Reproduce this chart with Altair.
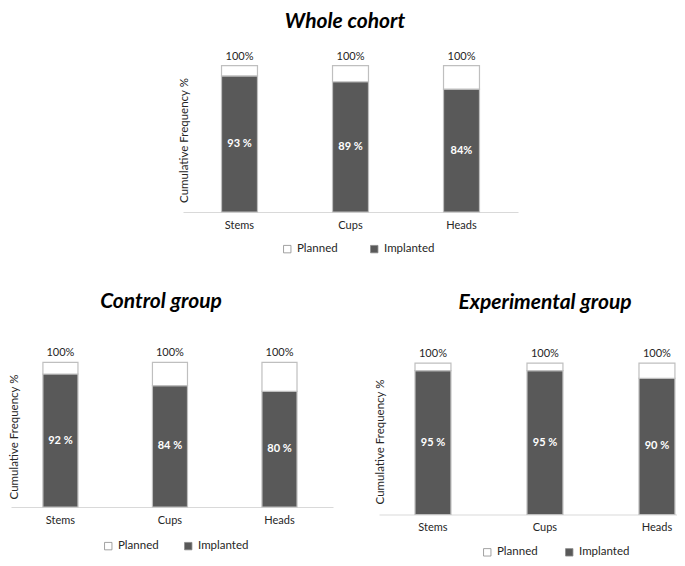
import altair as alt
import pandas as pd

# ---------------- data ----------------
categories = ["Stems", "Cups", "Heads"]
series = ["Planned", "Implanted"]
planned_total = [100, 100, 100]
total_labels = ["100%", "100%", "100%"]

whole_implanted = [93, 89, 84]
whole_labels = ["93 %", "89 %", "84%"]

control_implanted = [92, 84, 80]
control_labels = ["92 %", "84 %", "80 %"]

exp_implanted = [95, 95, 90]
exp_labels = ["95 %", "95 %", "90 %"]

FONT = "Lato"
DARK = "#595959"
EDGE = "#bfbfbf"
TXT = "#262626"


def seg_df(values):
    rows = []
    for c, v, t in zip(categories, values, planned_total):
        rows.append({"cat": c, "series": "Implanted", "lo": 0, "hi": v})
        rows.append({"cat": c, "series": "Planned", "lo": v, "hi": t})
    return pd.DataFrame(rows)


def lab_df(values, labels):
    return pd.DataFrame({"cat": categories, "val": values, "lab": labels,
                         "total": planned_total, "tlab": total_labels})


def panel(values, labels, title, width, height, pin, pout, align,
          tx, ty, lx, ly, colpad, tdx, toff):
    xenc = alt.X("cat:N", sort=categories, title=None,
                 scale=alt.Scale(paddingInner=pin, paddingOuter=pout, align=align),
                 axis=alt.Axis(labelAngle=0, ticks=False, domainColor="#d9d9d9",
                               domainWidth=1.2, labelPadding=7, labelFontSize=11,
                               labelFont=FONT, labelColor=TXT))
    yaxis = alt.Axis(title="Cumulative Frequency %", labels=False, ticks=False,
                     domain=False, grid=False, titleX=tx, titleY=ty,
                     titleBaseline="middle", titleFontWeight="normal",
                     titleFontSize=11.5, titleFont=FONT, titleColor=TXT)
    yscale = alt.Scale(domain=[0, 110])

    bars = alt.Chart(seg_df(values)).mark_bar(stroke=EDGE, strokeWidth=1.2).encode(
        x=xenc,
        y=alt.Y("lo:Q", scale=yscale, axis=yaxis),
        y2="hi:Q",
        fill=alt.Fill("series:N",
                      scale=alt.Scale(domain=series, range=["#ffffff", DARK]),
                      legend=alt.Legend(title=None, orient="none", legendX=lx, legendY=ly,
                                        direction="horizontal", symbolType="square",
                                        symbolSize=55, symbolStrokeColor="#8c8c8c",
                                        symbolStrokeWidth=0.8, labelFontSize=11.5,
                                        labelFont=FONT, labelColor=TXT,
                                        columnPadding=colpad, labelOffset=4, padding=0)),
    )
    inner = alt.Chart(lab_df(values, labels)).transform_calculate(
        mid="datum.val / 2"
    ).mark_text(color="white", fontWeight="bold", fontSize=11, font=FONT).encode(
        x=xenc,
        y=alt.Y("mid:Q", scale=yscale, axis=yaxis),
        text="lab:N",
    )
    top = alt.Chart(lab_df(values, labels)).mark_text(
        dy=-9, fontSize=11, font=FONT, color=TXT
    ).encode(
        x=xenc,
        y=alt.Y("total:Q", scale=yscale, axis=yaxis),
        text="tlab:N",
    )
    return alt.layer(bars, inner, top).properties(
        width=width, height=height,
        title=alt.TitleParams(title, font=FONT, fontSize=21, fontWeight="bold",
                              fontStyle="italic", color="black", anchor="middle",
                              dx=tdx, offset=toff),
    )


whole = panel(whole_implanted, whole_labels, "Whole cohort", 335, 161,
              0.676, 0.347, 0.5, 1.5, 89, 98.5, 192, 30, -5.5, 19)
control = panel(control_implanted, control_labels, "Control group", 322, 159,
                0.68, 0.31, 0.47, 3.5, 88.5, 91.5, 192, 23, -11, 35)
experimental = panel(exp_implanted, exp_labels, "Experimental group", 311, 166.5,
                     0.679, 0.228, 0.705, 1, 93.5, 102.5, 198.2, 25, 10.5, 35)

bottom = alt.hconcat(control, experimental, spacing=46, bounds="flush").resolve_scale(
    x="independent", y="independent", fill="independent"
).resolve_legend(fill="independent")

chart = alt.vconcat(whole, bottom, spacing=36, center=True).resolve_scale(
    x="independent", y="independent", fill="independent"
).resolve_legend(
    fill="independent"
).properties(
    padding={"left": 0, "top": 2, "right": -13, "bottom": 0}, background="white"
).configure_view(stroke=None)

chart.save("out.html", embed_options={"renderer": "svg", "actions": False})
